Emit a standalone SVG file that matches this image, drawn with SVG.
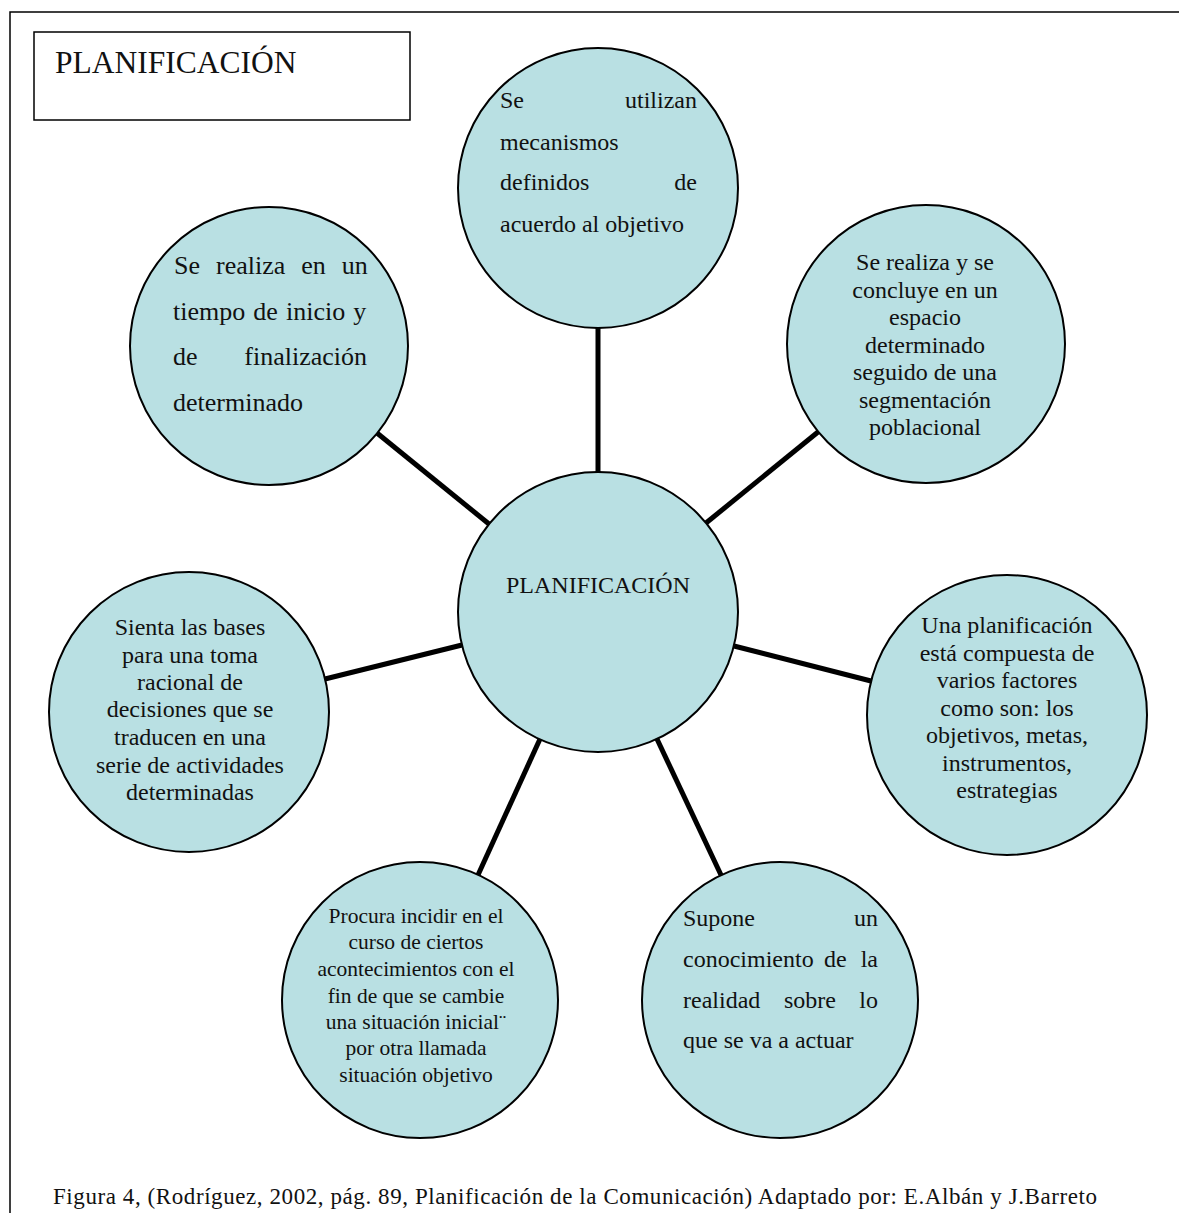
<svg xmlns="http://www.w3.org/2000/svg" width="1179" height="1213" viewBox="0 0 1179 1213">
<style>
.node circle{fill:#B9E0E3;stroke:#000;stroke-width:2}
text{font-family:"Liberation Serif","Times New Roman",serif;fill:#111}
.c{text-anchor:middle;font-size:24px}
.j{font-size:24px}
.e{text-anchor:end}
.conn line{stroke:#000;stroke-width:5}
</style>
<rect width="1179" height="1213" fill="#fff"/>
<path d="M10,1213 V12 H1179" fill="none" stroke="#000" stroke-width="1.5"/>
<g id="title">
<rect x="34" y="32" width="376" height="88" fill="#fff" stroke="#000" stroke-width="1.5"/>
<text x="55" y="73" style="font-size:31.5px">PLANIFICACIÓN</text>
</g>
<g class="conn" id="connectors">
<line x1="598" y1="472" x2="598" y2="328"/>
<line x1="489" y1="524" x2="377" y2="433"/>
<line x1="706" y1="523" x2="818" y2="432"/>
<line x1="462" y1="645" x2="325" y2="679"/>
<line x1="734" y1="646" x2="871" y2="681"/>
<line x1="540" y1="739" x2="478" y2="875"/>
<line x1="657" y1="739" x2="721" y2="875"/>
</g>
<g class="node" id="n-top">
<circle cx="598" cy="188" r="140"/>
<text class="j" x="500" y="108">Se</text><text class="j e" x="697" y="108">utilizan</text>
<text class="j" x="500" y="150">mecanismos</text>
<text class="j" x="500" y="190">definidos</text><text class="j e" x="697" y="190">de</text>
<text class="j" x="500" y="232">acuerdo al objetivo</text>
</g>
<g class="node" id="n-upleft">
<circle cx="269" cy="346" r="139"/>
<g style="font-size:26px">
<text x="174" y="274" word-spacing="9.5">Se realiza en un</text>
<text x="173" y="319.5" word-spacing="1.6">tiempo de inicio y</text>
<text x="173" y="365">de</text><text class="e" x="367" y="365">finalización</text>
<text x="173" y="411">determinado</text>
</g>
</g>
<g class="node" id="n-upright">
<circle cx="926" cy="344" r="139"/>
<text class="c" x="925" y="270">Se realiza y se</text>
<text class="c" x="925" y="297.5">concluye en un</text>
<text class="c" x="925" y="325">espacio</text>
<text class="c" x="925" y="352.5">determinado</text>
<text class="c" x="925" y="380">seguido de una</text>
<text class="c" x="925" y="407.5">segmentación</text>
<text class="c" x="925" y="435">poblacional</text>
</g>
<g class="node" id="n-center">
<circle cx="598" cy="612" r="140"/>
<text x="598" y="593" style="text-anchor:middle;font-size:24px">PLANIFICACIÓN</text>
</g>
<g class="node" id="n-left">
<circle cx="189" cy="712" r="140"/>
<text class="c" x="190" y="635">Sienta las bases</text>
<text class="c" x="190" y="663">para una toma</text>
<text class="c" x="190" y="690">racional de</text>
<text class="c" x="190" y="717">decisiones que se</text>
<text class="c" x="190" y="745">traducen en una</text>
<text class="c" x="190" y="773">serie de actividades</text>
<text class="c" x="190" y="800">determinadas</text>
</g>
<g class="node" id="n-right">
<circle cx="1007" cy="715" r="140"/>
<text class="c" x="1007" y="633">Una planificación</text>
<text class="c" x="1007" y="661">está compuesta de</text>
<text class="c" x="1007" y="688">varios factores</text>
<text class="c" x="1007" y="716">como son: los</text>
<text class="c" x="1007" y="743">objetivos, metas,</text>
<text class="c" x="1007" y="771">instrumentos,</text>
<text class="c" x="1007" y="798">estrategias</text>
</g>
<g class="node" id="n-botleft">
<circle cx="420" cy="1000" r="138"/>
<text class="c" x="416" y="923" style="font-size:21.5px">Procura incidir en el</text>
<text class="c" x="416" y="949" style="font-size:21.5px">curso de ciertos</text>
<text class="c" x="416" y="976" style="font-size:21.5px">acontecimientos con el</text>
<text class="c" x="416" y="1003" style="font-size:21.5px">fin de que se cambie</text>
<text class="c" x="416" y="1029" style="font-size:21.5px">una situación inicial¨</text>
<text class="c" x="416" y="1055" style="font-size:21.5px">por otra llamada</text>
<text class="c" x="416" y="1082" style="font-size:21.5px">situación objetivo</text>
</g>
<g class="node" id="n-botright">
<circle cx="780" cy="1000" r="138"/>
<text class="j" x="683" y="926">Supone</text><text class="j e" x="878" y="926">un</text>
<text class="j" x="683" y="967">conocimiento</text><text class="j" x="824" y="967">de</text><text class="j e" x="878" y="967">la</text>
<text class="j" x="683" y="1008">realidad</text><text class="j" x="784" y="1008">sobre</text><text class="j e" x="878" y="1008">lo</text>
<text class="j" x="683" y="1048">que se va a actuar</text>
</g>
<text id="caption" x="53" y="1204" style="font-size:23px" textLength="1044">Figura 4, (Rodríguez, 2002, pág. 89, Planificación de la Comunicación) Adaptado por: E.Albán y J.Barreto</text>
</svg>
